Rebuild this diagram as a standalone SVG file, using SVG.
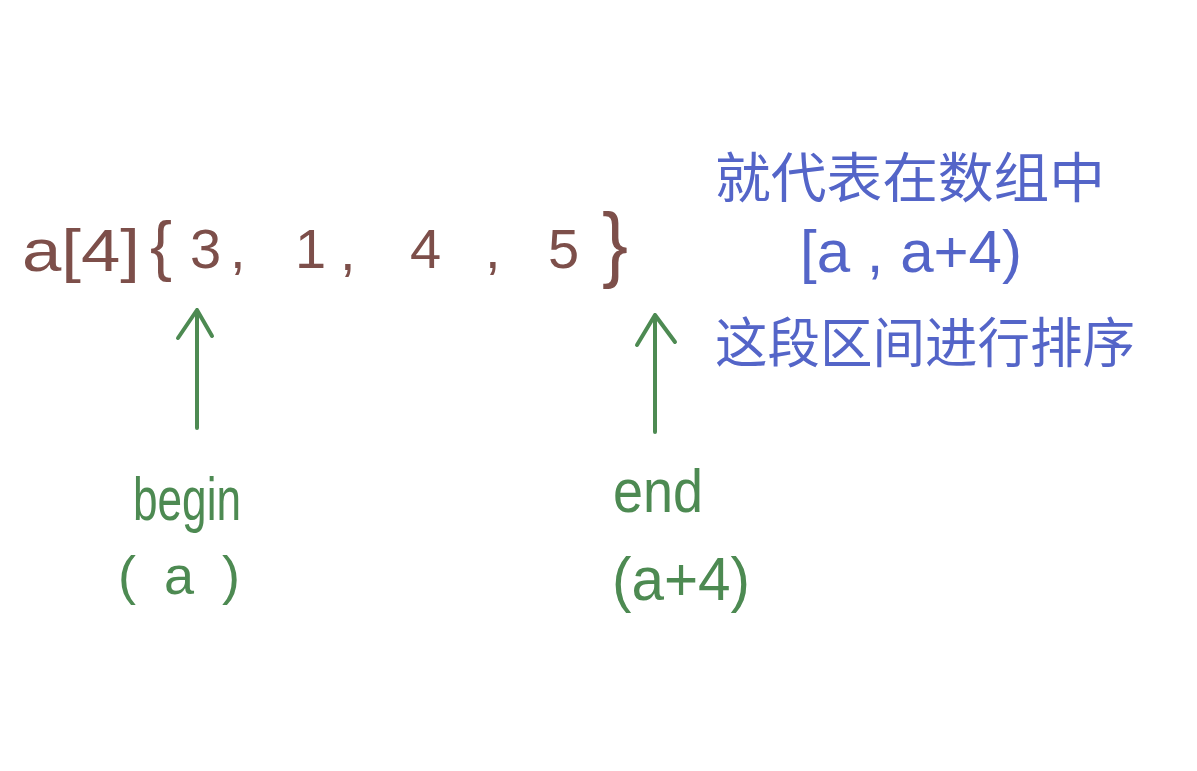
<svg xmlns="http://www.w3.org/2000/svg" width="1197" height="771" viewBox="0 0 1197 771">
<style>
.br{fill:#7d4f4a;font-family:"Liberation Sans",sans-serif;}
.bl{fill:#5465c8;font-family:"Liberation Sans","Noto Sans CJK SC",sans-serif;}
.gr{fill:#4d8a52;font-family:"Liberation Sans",sans-serif;}
.arr{stroke:#4d8a52;stroke-width:4;fill:none;stroke-linecap:round;stroke-linejoin:round;}
</style>
<rect width="1197" height="771" fill="#ffffff"/>
<g id="array">
<text class="br" x="22" y="271" font-size="60" textLength="118" lengthAdjust="spacingAndGlyphs">a[4]</text>
<text class="br" x="150" y="268" font-size="66">{</text>
<text class="br" x="190" y="268" font-size="56">3</text>
<text class="br" x="230" y="268" font-size="56">,</text>
<text class="br" x="295" y="268" font-size="56">1</text>
<text class="br" x="340" y="270" font-size="56">,</text>
<text class="br" x="410" y="268" font-size="56">4</text>
<text class="br" x="485" y="268" font-size="56">,</text>
<text class="br" x="548" y="268" font-size="56">5</text>
<text class="br" x="602" y="272" font-size="84" textLength="26" lengthAdjust="spacingAndGlyphs">}</text>
</g>
<g id="note">
<text class="bl" x="715" y="198" font-size="54" textLength="390" lengthAdjust="spacingAndGlyphs">就代表在数组中</text>
<text class="bl" x="800" y="272" font-size="60" textLength="222" lengthAdjust="spacingAndGlyphs">[a , a+4)</text>
<text class="bl" x="715" y="363" font-size="54" textLength="420" lengthAdjust="spacingAndGlyphs">这段区间进行排序</text>
</g>
<g id="connectors">
<path class="arr" d="M197 428 L197 310 M178 338 L197 310 L212 336"/>
<path class="arr" d="M655 432 L655 315 M637 345 L655 315 L675 342"/>
</g>
<g id="begin">
<text class="gr" x="133" y="520" font-size="62" textLength="108" lengthAdjust="spacingAndGlyphs">begin</text>
<text class="gr" x="118" y="594" font-size="54" textLength="122" lengthAdjust="spacing">( a )</text>
</g>
<g id="end">
<text class="gr" x="613" y="512" font-size="62" textLength="90" lengthAdjust="spacingAndGlyphs">end</text>
<text class="gr" x="612" y="600" font-size="62" textLength="138" lengthAdjust="spacingAndGlyphs">(a+4)</text>
</g>
</svg>
